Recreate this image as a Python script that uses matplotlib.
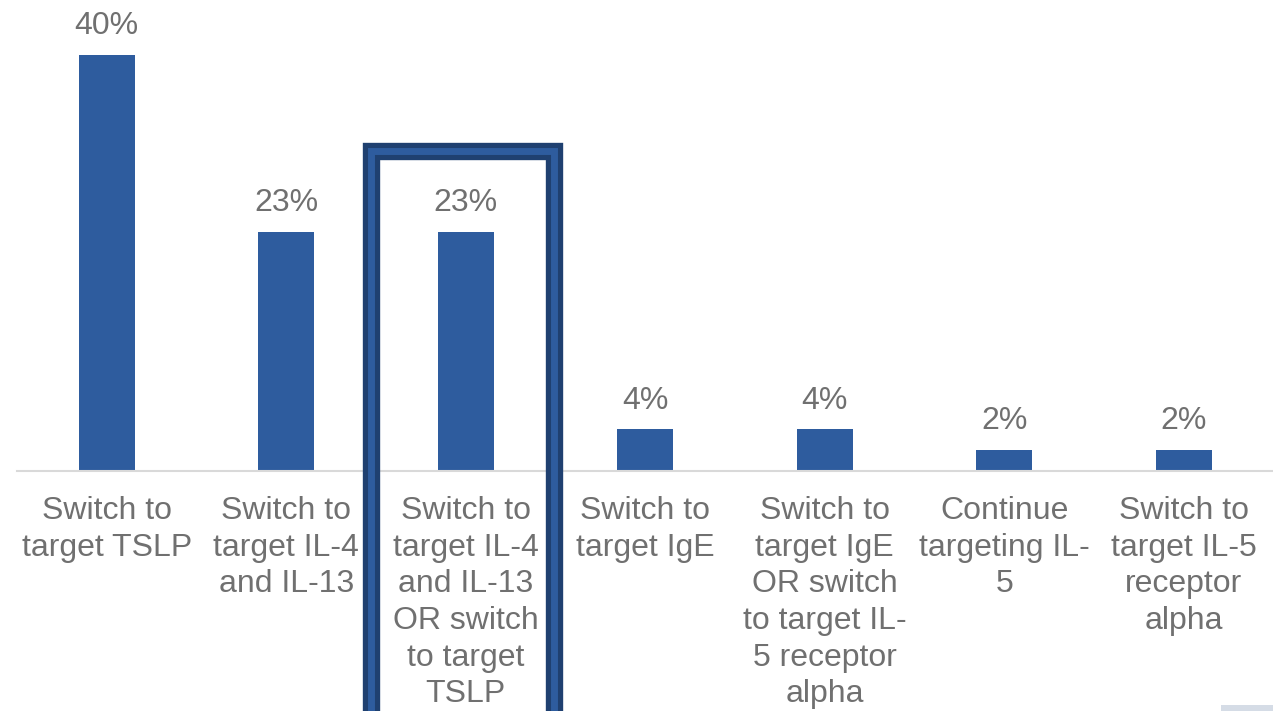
import matplotlib.pyplot as plt
from matplotlib.patches import Rectangle
import numpy as np

plt.rcParams['font.family'] = ['Liberation Sans', 'DejaVu Sans']

categories = [
    "Switch to\ntarget TSLP",
    "Switch to\ntarget IL-4\nand IL-13",
    "Switch to\ntarget IL-4\nand IL-13\nOR switch\nto target\nTSLP",
    "Switch to\ntarget IgE",
    "Switch to\ntarget IgE\nOR switch\nto target IL-\n5 receptor\nalpha",
    "Continue\ntargeting IL-\n5",
    "Switch to\ntarget IL-5\nreceptor\nalpha",
]
values = [40, 23, 23, 4, 4, 2, 2]

bar_color = '#2E5C9E'
dark_blue = '#1F4070'
text_color = '#707070'

W, H = 1273, 711
fig = plt.figure(figsize=(W / 100, H / 100), dpi=100)
ax = fig.add_axes([17 / W, (H - 471) / H, (1273.5 - 17) / W, (471 - 55) / H])

x = np.arange(len(values))
ax.bar(x, values, width=0.312, color=bar_color)
ax.set_xlim(-0.5, len(values) - 0.5)
ax.set_ylim(0, 40)

for xi, v in zip(x, values):
    ax.annotate(f"{v}%", (xi, v), xytext=(0, 10), textcoords='offset points',
                ha='center', va='bottom', fontsize=23, color=text_color,
                annotation_clip=False)

for xi, lab in zip(x, categories):
    ax.annotate(lab, (xi, 0), xytext=(0, -18), textcoords='offset points',
                ha='center', va='top', fontsize=23, color=text_color,
                linespacing=1.29, annotation_clip=False)

for s in ['top', 'right', 'left']:
    ax.spines[s].set_visible(False)
ax.spines['bottom'].set_color('#D9D9D9')
ax.spines['bottom'].set_linewidth(1.5)
ax.set_xticks([])
ax.set_yticks([])

# highlight frame around the third category
bx0, bx1, by = 371.5 / W, 554 / W, (H - 150.5) / H
for lw, col in [(12.5, dark_blue), (5, bar_color)]:
    fig.add_artist(Rectangle((bx0, -0.1), bx1 - bx0, by + 0.1, fill=False,
                             edgecolor=col, linewidth=lw,
                             transform=fig.transFigure, joinstyle='miter'))

fig.add_artist(Rectangle((1221 / W, 0), 52 / W, 6 / H, color='#D5DCE6',
                         transform=fig.transFigure, linewidth=0))

fig.savefig('out.png', dpi=100)
